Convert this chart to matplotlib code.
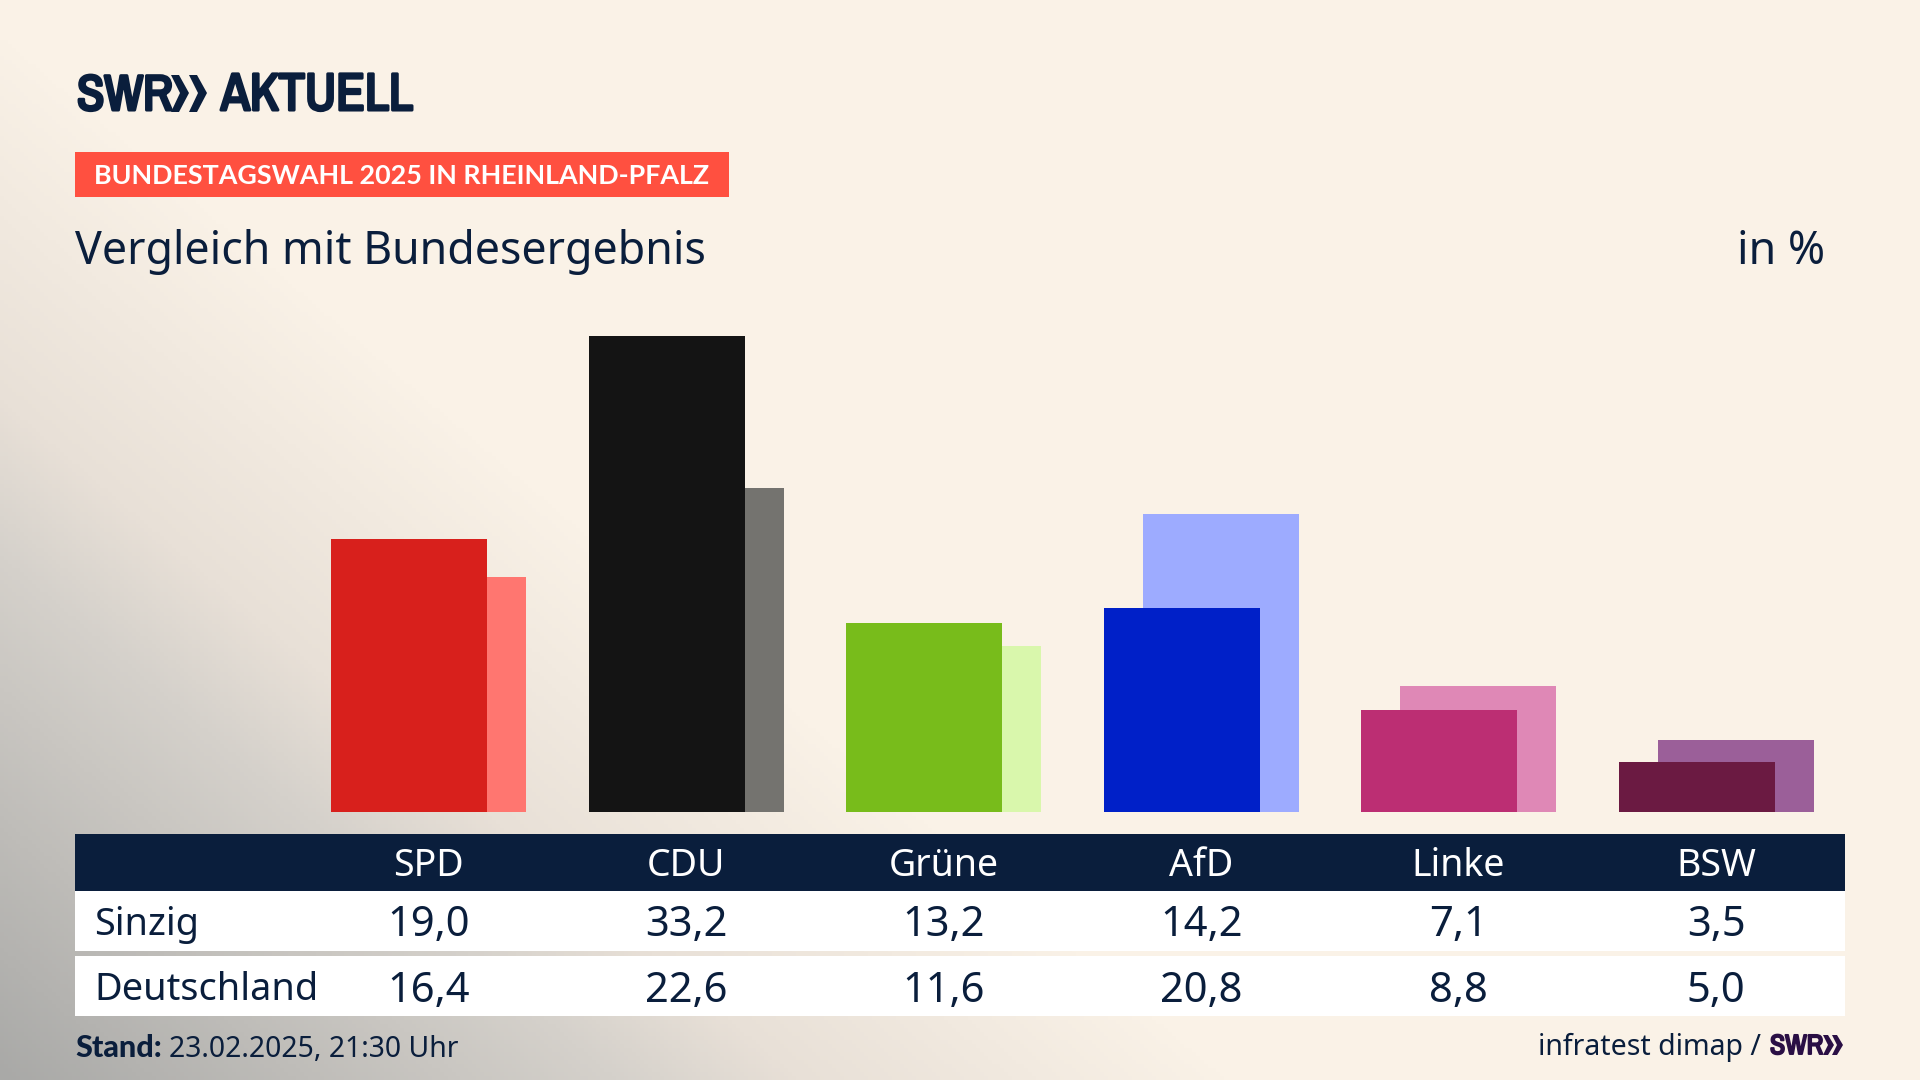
import numpy as np
import matplotlib
matplotlib.use('Agg')
import matplotlib.pyplot as plt
import matplotlib.patheffects as pe
from matplotlib.patches import Rectangle, Polygon
from matplotlib.colors import LinearSegmentedColormap

parties = ['SPD', 'CDU', 'Grüne', 'AfD', 'Linke', 'BSW']
sinzig = [19.0, 33.2, 13.2, 14.2, 7.1, 3.5]
deutschland = [16.4, 22.6, 11.6, 20.8, 8.8, 5.0]
colors_front = ['#D8201C', '#141414', '#78BC1B', '#0020C8', '#BC2E73', '#6B1A42']
colors_back = ['#FF7670', '#74736F', '#D9F7AC', '#9DABFF', '#DF88B6', '#9B5F99']

NAVY = '#0A1E3C'
PURPLE = '#2A0F45'
W, H = 1920, 1080
plt.rcParams['font.family'] = ['Noto Sans', 'DejaVu Sans']


def fmt(v):
    return f'{v:.1f}'.replace('.', ',')


def pos(left, top, right, bottom):
    return [left / W, 1 - bottom / H, (right - left) / W, (bottom - top) / H]


fig = plt.figure(figsize=(19.2, 10.8), dpi=100)

# page background, diagonal from grey at the lower left corner into cream
bg = fig.add_axes([0, 0, 1, 1], zorder=0)
yy, xx = np.mgrid[0:1:270j, 0:1:480j]
shade = np.clip(1 - (xx / 0.64 + yy / 0.97), 0, 1)
cmap = LinearSegmentedColormap.from_list(
    'page', [(0, '#FAF2E7'), (0.35, '#E8E0D7'), (0.5, '#D5D1CB'), (1, '#A9A9A7')])
bg.imshow(shade, origin='lower', extent=[0, W, H, 0], cmap=cmap, vmin=0, vmax=1, aspect='auto')
bg.set_xlim(0, W)
bg.set_ylim(H, 0)
bg.axis('off')

# category 0 sits at px 428.6, one category is 257.5 px
x0, step = 428.6, 257.5
xlim = ((75 - x0) / step, (1845 - x0) / step)
px_per_unit = 14.35
base, top = 812, 300

ax = fig.add_axes(pos(75, top, 1845, base), zorder=1)
ax.patch.set_alpha(0)
ax.set_xlim(*xlim)
ax.set_ylim(0, (base - top) / px_per_unit)
ax.axis('off')

x = np.arange(len(parties))
bar_w = 156 / step
off = 19.5 / step
ax.bar(x + off, deutschland, width=bar_w, color=colors_back, linewidth=0)
ax.bar(x - off, sinzig, width=bar_w, color=colors_front, linewidth=0)

# table
tb = fig.add_axes(pos(75, 834, 1845, 1016), zorder=1)
tb.patch.set_alpha(0)
tb.set_xlim(*xlim)
tb.set_ylim(1016, 834)
tb.axis('off')
tb.axhspan(834, 891, color=NAVY, linewidth=0)
tb.axhspan(891, 951, color='white', linewidth=0)
tb.axhspan(956, 1016, color='white', linewidth=0)
for i, p in enumerate(parties):
    tb.text(i, 876, p, color='white', fontsize=27, ha='center', va='baseline')
    tb.text(i, 936, fmt(sinzig[i]), color=NAVY, fontsize=30, ha='center', va='baseline')
    tb.text(i, 1002, fmt(deutschland[i]), color=NAVY, fontsize=30, ha='center', va='baseline')
row_x = xlim[0] + 19 / step
tb.text(row_x, 935, 'Sinzig', color=NAVY, fontsize=27.3, ha='left', va='baseline')
tb.text(row_x, 1000, 'Deutschland', color=NAVY, fontsize=27.3, ha='left', va='baseline')

# header and footer, placed in pixels
top_ax = fig.add_axes([0, 0, 1, 1], zorder=2)
top_ax.patch.set_alpha(0)
top_ax.set_xlim(0, W)
top_ax.set_ylim(H, 0)
top_ax.axis('off')

# the narrow face only comes in regular here, thicken it with a stroke
logo = ['Archivo Narrow', 'Liberation Sans', 'DejaVu Sans']
heavy = [pe.withStroke(linewidth=2.2, foreground=NAVY)]
top_ax.text(77, 110, 'SWR', family=logo, fontsize=36, color=NAVY, va='baseline', path_effects=heavy)
top_ax.text(221, 110, 'AKTUELL', family=logo, fontsize=37.9, color=NAVY, va='baseline', path_effects=heavy)
for cx in (171, 189):
    top_ax.add_patch(Polygon([(cx, 75), (cx + 8, 75), (cx + 18, 93), (cx + 8, 112), (cx, 112),
                              (cx + 9, 93)], color=NAVY, linewidth=0))

top_ax.add_patch(Rectangle((75, 152), 654, 45, color='#FF5040', linewidth=0))
top_ax.text(94, 184, 'BUNDESTAGSWAHL 2025 IN RHEINLAND-PFALZ', color='white', fontweight='bold',
            family=['Lato', 'DejaVu Sans'], fontsize=19.4, va='baseline')
top_ax.text(75, 264, 'Vergleich mit Bundesergebnis', color=NAVY, fontsize=32.2, va='baseline')
top_ax.text(1825, 264, 'in %', color=NAVY, fontsize=32.2, ha='right', va='baseline')

top_ax.text(75, 1057, 'Stand:', color=NAVY, fontweight='black', family=['Lato', 'DejaVu Sans'],
            fontsize=22, va='baseline')
top_ax.text(169, 1057, '23.02.2025, 21:30 Uhr', color=NAVY, fontsize=20.4, va='baseline')
top_ax.text(1761, 1055, 'infratest dimap /', color=NAVY, fontsize=20.5, ha='right', va='baseline')
top_ax.text(1770, 1054, 'SWR', family=logo, fontsize=20, color=PURPLE, va='baseline',
            path_effects=[pe.withStroke(linewidth=1.4, foreground=PURPLE)])
for cx in (1823, 1832):
    top_ax.add_patch(Polygon([(cx, 1035), (cx + 5, 1035), (cx + 11, 1045), (cx + 5, 1055), (cx, 1055),
                              (cx + 5, 1045)], color=PURPLE, linewidth=0))

fig.savefig('out.png', dpi=100)
